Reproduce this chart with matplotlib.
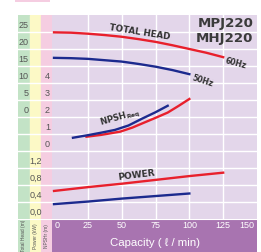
#!/usr/bin/env python3
"""
Curva de prestaciones MPJ220 / MHJ220: altura total, NPSH requerido y potencia
frente al caudal, a 50 Hz y 60 Hz. Guarda out.png (261x252 px).
"""

import matplotlib
matplotlib.use('Agg')
import matplotlib.pyplot as plt
import matplotlib.transforms as mtrans
from matplotlib.patches import Rectangle


# ===================== DATOS =====================

# Altura total (m)
Q_HEAD_60 = [0, 12.5, 25, 37.5, 50, 62.5, 75, 87.5, 100, 112.5, 125]
HEAD_60 = [24.9, 24.8, 24.5, 24.1, 23.6, 22.9, 22.1, 21.1, 20.0, 18.9, 17.6]
Q_HEAD_50 = [0, 12.5, 25, 37.5, 50, 62.5, 75, 87.5, 100]
HEAD_50 = [17.4, 17.3, 17.1, 16.7, 16.3, 15.6, 14.8, 13.8, 12.6]

# NPSH requerido (m)
Q_NPSH_60 = [24, 35, 49, 58, 66, 75, 84, 92, 100]
NPSH_60 = [0.84, 0.95, 1.14, 1.38, 1.65, 1.95, 2.26, 2.65, 3.06]
Q_NPSH_50 = [14, 25, 35, 45, 55, 65, 75, 84]
NPSH_50 = [0.78, 0.93, 1.08, 1.24, 1.50, 1.90, 2.28, 2.66]

# Potencia (kW)
Q_POW_60 = [0, 25, 50, 75, 100, 125]
POW_60 = [0.66, 0.75, 0.83, 0.92, 1.01, 1.09]
Q_POW_50 = [0, 25, 50, 75, 100]
POW_50 = [0.35, 0.41, 0.48, 0.54, 0.60]

X_TICKS = [0, 25, 50, 75, 100, 125, 150]
HEAD_TICKS = [0, 5, 10, 15, 20, 25]
NPSH_TICKS = [0, 1, 2, 3, 4]
POW_TICKS = [0.0, 0.4, 0.8, 1.2]

# ===================== ESTILO =====================

W, H = 261, 252
BG = '#e3d6ea'
GREEN = '#c3e3c6'
YELLOW = '#fcf9c6'
PINK = '#f5cde1'
PURPLE = '#a874b0'
RED = '#e8202c'
BLUE = '#1c2a8e'
TXT = '#555555'
DARK = '#333333'
NUM_FONT = ['Liberation Sans', 'DejaVu Sans']


def fx(px):
    return px / W


def fy(py):
    # py medido desde arriba
    return 1 - py / H


def main():
    fig = plt.figure(figsize=(W / 100, H / 100), dpi=100)
    fig.patch.set_facecolor('white')

    # cinta rosa superior
    fig.patches.append(Rectangle((fx(15), fy(1.5)), fx(35), 1.5 / H,
                                 transform=fig.transFigure,
                                 facecolor=PINK, edgecolor='none'))

    # banda inferior (detras del eje principal)
    bot = fig.add_axes([fx(18), 0, fx(239), 33 / H])
    bot.set_zorder(-1)
    bot.set_xlim(18, 257)
    bot.set_ylim(0, 33)
    bot.axis('off')
    cells = [(18, 12, GREEN, 'Total Head (m)'),
             (30, 11, YELLOW, 'Power (kW)'),
             (41, 11, PINK, 'NPSHr (m)')]
    for x0, w, c, lab in cells:
        bot.add_patch(Rectangle((x0, 0), w, 33, facecolor=c, edgecolor='none'))
        bot.text(x0 + w / 2, 16, lab, rotation=90, ha='center', va='center',
                 fontsize=3.5, color=TXT, family=NUM_FONT)
    bot.add_patch(Rectangle((52, 0), 205, 33, facecolor=PURPLE,
                            edgecolor='none'))
    bot.axhline(32.6, color='white', lw=0.8)

    # eje principal (altura), 219 px abajo, 15 px arriba
    ax = fig.add_axes([fx(52), fy(219), fx(205), 204 / H])
    ax.set_facecolor(BG)
    ax.set_xlim(-1.5, 150)
    ax.set_ylim(-30, 30)
    for s in ax.spines.values():
        s.set_visible(False)
    ax.set_xticks([])
    ax.set_yticks([])
    for q in X_TICKS[1:-1]:
        ax.axvline(q, color='white', lw=1.0, zorder=1)
    for h in range(-25, 30, 5):
        ax.axhline(h, color='white', lw=1.0, zorder=1)

    ax_n = ax.twinx()
    ax_n.set_ylim(-4, 8)
    ax_p = ax.twinx()
    ax_p.set_ylim(0, 4.8)
    for a in (ax_n, ax_p):
        a.axis('off')

    # curvas
    ax.plot(Q_HEAD_60, HEAD_60, color=RED, lw=1.7, zorder=3)
    ax.plot(Q_HEAD_50, HEAD_50, color=BLUE, lw=1.7, zorder=3)
    ax_n.plot(Q_NPSH_60, NPSH_60, color=RED, lw=1.7, zorder=3)
    ax_n.plot(Q_NPSH_50, NPSH_50, color=BLUE, lw=1.7, zorder=4)
    ax_p.plot(Q_POW_60, POW_60, color=RED, lw=1.7, zorder=3)
    ax_p.plot(Q_POW_50, POW_50, color=BLUE, lw=1.7, zorder=3)

    # textos sobre las curvas
    ax.text(63, 25.0, 'TOTAL HEAD', rotation=-9, ha='center', va='center',
            fontsize=6.3, fontweight='bold', color=DARK)
    ax.text(134.6, 15.9, '60Hz', rotation=-15, ha='center', va='center',
            fontsize=5.6, fontweight='bold', color=DARK)
    ax.text(109.5, 10.6, '50Hz', rotation=-18, ha='center', va='center',
            fontsize=5.6, fontweight='bold', color=DARK)
    ax.text(49, -0.3, r'NPSH$_{\mathbf{Req}}$', rotation=16, ha='center',
            va='center', fontsize=6.2, fontweight='bold', color=DARK)
    ax.text(60.7, -17.1, 'POWER', rotation=7, ha='center', va='center',
            fontsize=6.5, fontweight='bold', color=DARK)
    ax.text(147.5, 27.6, 'MPJ220', ha='right', va='center',
            fontsize=9.6, fontweight='bold', color='#3b3b3b')
    ax.text(147.5, 23.2, 'MHJ220', ha='right', va='center',
            fontsize=9.6, fontweight='bold', color='#3b3b3b')

    # columnas de escala a la izquierda
    side = fig.add_axes([fx(18), fy(219), fx(34), 204 / H], sharey=ax)
    side.set_xlim(0, 34)
    side.axis('off')
    side.axvspan(0, 12, color=GREEN, zorder=0)
    side.axvspan(12, 23, color=YELLOW, zorder=0)
    side.axvspan(23, 34, color=PINK, zorder=0)
    for h in range(-25, 30, 5):
        side.axhline(h, color='white', lw=1.0, zorder=1)

    for h in HEAD_TICKS:
        side.text(10.5, h + 0.5, str(h), ha='right', va='bottom',
                  fontsize=6.5, color=TXT, family=NUM_FONT)
    for n in NPSH_TICKS:
        side.text(32, -10 + 5 * n + 0.5, str(n), ha='right', va='bottom',
                  fontsize=6.5, color=TXT, family=NUM_FONT)
    for p in POW_TICKS:
        side.text(17.7, -30 + 12.5 * p + 0.5, f'{p:.1f}'.replace('.', ','),
                  ha='center', va='bottom', fontsize=6.5, color=TXT,
                  family=NUM_FONT)

    # etiquetas del eje de caudal sobre la banda morada
    trans = mtrans.blended_transform_factory(ax.transData, ax.transAxes)
    for q in X_TICKS:
        ha = 'center'
        xq = q
        if q == 0:
            ha, xq = 'left', 0.5
        elif q == 150:
            ha, xq = 'right', 148
        ax.text(xq, -0.034, str(q), transform=trans, ha=ha, va='center',
                fontsize=6.5, color='white', family=NUM_FONT, clip_on=False)
    ax.text(0.502, -0.118, 'Capacity ( \u2113 / min)', transform=ax.transAxes,
            ha='center', va='center', fontsize=8.2, color='white',
            family=NUM_FONT, clip_on=False)

    fig.savefig('out.png', dpi=100)
    plt.close(fig)


if __name__ == '__main__':
    main()
